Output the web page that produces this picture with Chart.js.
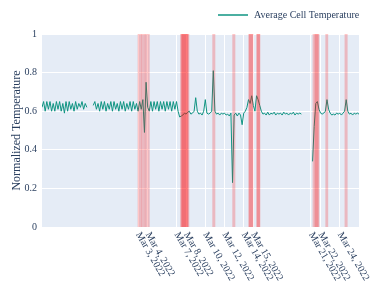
<!DOCTYPE html>
<html>
<head>
<meta charset="utf-8">
<script src="https://cdn.jsdelivr.net/npm/chart.js@4"></script>
<style>
  body { margin: 0; background: #fff; }
  canvas { display: block; }
</style>
</head>
<body>
<canvas id="myChart" width="375" height="282"></canvas>
<script>
const seriesStart = '2022-02-21T00:00:00Z';
const stepHours = 4;

// one reading every 4 hours, null = no data
const avgCellTemp = [
    0.62, 0.65, 0.60, 0.65, 0.61, 0.65, 0.60, 0.64, 0.60, 0.65, 0.61, 0.65, 0.60, 0.64, 0.59,
    0.65, 0.60, 0.65, 0.61, 0.64, 0.60, 0.65, 0.61, 0.64, 0.62, 0.65, 0.61, 0.64, 0.62,
    null, null, null,
    0.63, 0.65, 0.61, 0.64, 0.60, 0.65, 0.61, 0.65, 0.60, 0.64, 0.61, 0.65, 0.60, 0.65, 0.61, 0.64,
    0.60, 0.65, 0.61, 0.65, 0.60, 0.64, 0.61, 0.65, 0.60, 0.65, 0.61, 0.64, 0.60, 0.65, 0.61, 0.66,
    0.49, 0.75,
    0.62, 0.60, 0.65, 0.60, 0.65, 0.61, 0.65, 0.60, 0.65, 0.61, 0.65, 0.60, 0.65, 0.61, 0.65,
    0.60, 0.65, 0.61, 0.65, 0.60,
    0.57, 0.575, 0.58, 0.59, 0.585, 0.595, 0.60, 0.585, 0.59, 0.60, 0.67, 0.60, 0.585, 0.59,
    0.58, 0.60, 0.66, 0.59, 0.585, 0.59, 0.60, 0.81, 0.60, 0.585, 0.59, 0.58, 0.59, 0.585,
    0.59, 0.58, 0.585, 0.575, 0.59, 0.23, 0.58, 0.59, 0.575, 0.59, 0.58, 0.53, 0.59, 0.60,
    0.62, 0.66, 0.64, 0.68, 0.63, 0.60, 0.68, 0.66, 0.63, 0.60,
    0.585, 0.59, 0.58, 0.595, 0.58, 0.59, 0.585, 0.595, 0.58, 0.59, 0.585, 0.59, 0.58,
    0.595, 0.585, 0.59, 0.58, 0.59, 0.585, 0.595, 0.58, 0.59, 0.585, 0.59, 0.585,
    null, null, null, null, null, null,
    0.34, 0.52, 0.64, 0.65, 0.61, 0.59, 0.585, 0.59, 0.60, 0.66, 0.61, 0.59, 0.58, 0.585,
    0.58, 0.59, 0.585, 0.59, 0.58, 0.59, 0.60, 0.66, 0.60, 0.585, 0.59, 0.58, 0.59, 0.585,
    0.59, 0.585
];

const tickDates = ['2022-03-03', '2022-03-04', '2022-03-07', '2022-03-08', '2022-03-10', '2022-03-12',
    '2022-03-14', '2022-03-15', '2022-03-21', '2022-03-22', '2022-03-24'];
const tickLabels = ['Mar 3, 2022', 'Mar 4, 2022', 'Mar 7, 2022', 'Mar 8, 2022', 'Mar 10, 2022', 'Mar 12, 2022',
    'Mar 14, 2022', 'Mar 15, 2022', 'Mar 21, 2022', 'Mar 22, 2022', 'Mar 24, 2022'];

// anomaly windows (start, end)
const anomalyStarts = ['2022-03-02T23:00', '2022-03-03T08:00', '2022-03-03T17:00',
    '2022-03-07T09:30', '2022-03-07T10:30', '2022-03-07T13:00',
    '2022-03-10T17:30', '2022-03-12T19:30', '2022-03-14T11:30', '2022-03-14T13:00',
    '2022-03-15T07:30', '2022-03-15T08:30', '2022-03-21T04:00', '2022-03-21T09:00',
    '2022-03-22T12:00', '2022-03-24T12:00'];
const anomalyEnds = ['2022-03-03T09:00', '2022-03-03T18:00', '2022-03-04T05:00',
    '2022-03-08T08:00', '2022-03-08T06:00', '2022-03-08T04:00',
    '2022-03-11T01:00', '2022-03-13T03:00', '2022-03-15T00:00', '2022-03-14T23:00',
    '2022-03-15T17:30', '2022-03-15T16:30', '2022-03-21T21:00', '2022-03-21T19:00',
    '2022-03-22T19:00', '2022-03-24T19:30'];

const seriesName = 'Average Cell Temperature';
const lineColor = '#0f9482';
const textColor = '#2a3f5f';
const fontFamily = '"Liberation Serif", "Times New Roman", serif';

const toMs = s => Date.parse(s.length === 10 ? s + 'T00:00:00Z' : (s.endsWith('Z') ? s : s + ':00Z'));

const t0 = toMs(seriesStart);
const points = avgCellTemp.map((v, i) => ({ x: t0 + i * stepHours * 3600000, y: v }));
const tickValues = tickDates.map(toMs);

const plotBackground = {
    id: 'plotBackground',
    beforeDraw(chart) {
        const { ctx, chartArea: a } = chart;
        ctx.save();
        ctx.fillStyle = '#e5ecf6';
        ctx.fillRect(a.left, a.top, a.right - a.left, a.bottom - a.top);
        ctx.restore();
    }
};

const anomalyBands = {
    id: 'anomalyBands',
    afterDatasetsDraw(chart) {
        const { ctx, chartArea: a, scales } = chart;
        ctx.save();
        ctx.fillStyle = 'rgba(255, 0, 0, 0.22)';
        anomalyStarts.forEach((s, i) => {
            const x1 = scales.x.getPixelForValue(toMs(s));
            const x2 = scales.x.getPixelForValue(toMs(anomalyEnds[i]));
            ctx.fillRect(x1, a.top, x2 - x1, a.bottom - a.top);
        });
        ctx.restore();
    }
};

const axisLabelsAndLegend = {
    id: 'axisLabelsAndLegend',
    afterDraw(chart) {
        const { ctx, chartArea: a, scales } = chart;
        ctx.save();
        ctx.fillStyle = textColor;
        ctx.font = '10px ' + fontFamily;
        ctx.textAlign = 'left';
        ctx.textBaseline = 'middle';
        tickValues.forEach((v, i) => {
            const x = scales.x.getPixelForValue(v);
            ctx.save();
            ctx.translate(x, a.bottom + 6);
            ctx.rotate(Math.PI / 3);
            ctx.fillText(tickLabels[i], 0, 0);
            ctx.restore();
        });

        // legend
        ctx.strokeStyle = lineColor;
        ctx.lineWidth = 1.5;
        ctx.beginPath();
        ctx.moveTo(218, 15);
        ctx.lineTo(248, 15);
        ctx.stroke();
        ctx.fillText(seriesName, 254, 15);
        ctx.restore();
    }
};

const ctx = document.getElementById('myChart').getContext('2d');
const myChart = new Chart(ctx, {
    type: 'line',
    data: {
        datasets: [{
            label: seriesName,
            data: points,
            borderColor: lineColor,
            backgroundColor: lineColor,
            borderWidth: 1,
            pointRadius: 0,
            tension: 0,
            fill: false,
            spanGaps: false
        }]
    },
    options: {
        responsive: false,
        animation: false,
        layout: { padding: { top: 34, right: 16, left: 0, bottom: 0 } },
        plugins: {
            legend: { display: false },
            tooltip: { enabled: false }
        },
        scales: {
            x: {
                type: 'linear',
                min: toMs('2022-02-21'),
                max: toMs('2022-03-26'),
                afterBuildTicks: scale => {
                    scale.ticks = tickValues.map(v => ({ value: v }));
                },
                afterFit: scale => { scale.height = 55; },
                ticks: { display: false },
                grid: { color: '#ffffff', lineWidth: 1, drawTicks: false },
                border: { display: false }
            },
            y: {
                min: 0,
                max: 1,
                afterFit: scale => { scale.width = 42; },
                ticks: {
                    stepSize: 0.2,
                    padding: 5,
                    color: textColor,
                    font: { family: fontFamily, size: 10 },
                    callback: v => String(Number(v.toFixed(1)))
                },
                grid: { color: '#ffffff', lineWidth: 1, drawTicks: false },
                border: { display: false },
                title: {
                    display: true,
                    text: 'Normalized Temperature',
                    color: textColor,
                    font: { family: fontFamily, size: 12 },
                    padding: { top: 10, bottom: 0 }
                }
            }
        }
    },
    plugins: [plotBackground, anomalyBands, axisLabelsAndLegend]
});
</script>
</body>
</html>
